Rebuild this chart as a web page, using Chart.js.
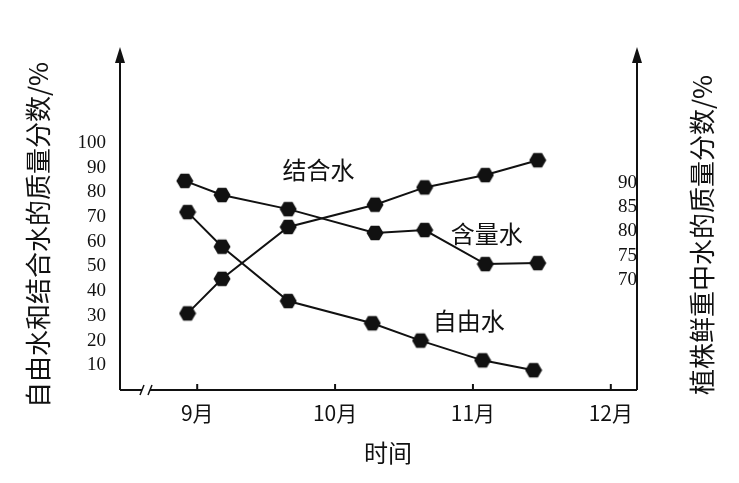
<!DOCTYPE html>
<html><head><meta charset="utf-8">
<script src="https://cdn.jsdelivr.net/npm/chart.js@4"></script>
<style>body{margin:0;background:#fff}</style>
</head><body>
<canvas id="c" width="739" height="483"></canvas>
<script>
// x = 月份位置
var months = [9, 10, 11, 12];
var monthLabels = ['9月', '10月', '11月', '12月'];
var xBound = [8.93, 9.18, 9.66, 10.29, 10.65, 11.09, 11.47];
var bound = [31, 45, 66, 75, 82, 87, 93];      // 结合水
var xFree = [8.93, 9.18, 9.66, 10.27, 10.62, 11.07, 11.44];
var free = [72, 58, 36, 27, 20, 12, 8];        // 自由水
var xTotal = [8.91, 9.18, 9.66, 10.29, 10.65, 11.09, 11.47];
var total = [90.4, 87.5, 84.6, 79.7, 80.3, 73.3, 73.5]; // 含量水(右轴)
var leftTicks = [10, 20, 30, 40, 50, 60, 70, 80, 90, 100];
var rightTicks = [70, 75, 80, 85, 90];

var hex = document.createElement('canvas');
hex.width = hex.height = 18;
(function () {
    var g = hex.getContext('2d');
    g.fillStyle = '#111';
    g.beginPath();
    for (var i = 0; i < 6; i++) {
        var a = Math.PI / 3 * i;
        g.lineTo(9 + 8.5 * Math.cos(a), 9 + 8.5 * Math.sin(a));
    }
    g.closePath(); g.fill();
})();

function pts(xs, ys) { return xs.map(function (x, i) { return {x: x, y: ys[i]}; }); }
var ds = function (data, axis) {
    return {data: data, yAxisID: axis, borderColor: '#111', borderWidth: 2, pointStyle: hex, pointRadius: 9, tension: 0};
};

var deco = {
    id: 'deco',
    afterDraw: function (ch) {
        var g = ch.ctx, a = ch.chartArea, sx = ch.scales.x, sy = ch.scales.y;
        g.save();
        g.strokeStyle = '#111'; g.fillStyle = '#111'; g.lineWidth = 2;
        [a.left, a.right].forEach(function (x) {
            g.beginPath(); g.moveTo(x, a.bottom); g.lineTo(x, a.top); g.stroke();
            g.beginPath(); g.moveTo(x, a.top - 8); g.lineTo(x - 5, a.top + 8); g.lineTo(x + 5, a.top + 8); g.fill();
        });
        g.beginPath(); g.moveTo(a.left, a.bottom); g.lineTo(a.right, a.bottom); g.stroke();
        g.clearRect(a.left + 22, a.bottom - 4, 8, 8);
        g.lineWidth = 1.5;
        g.beginPath(); g.moveTo(a.left + 20, a.bottom + 5); g.lineTo(a.left + 24, a.bottom - 5);
        g.moveTo(a.left + 28, a.bottom + 5); g.lineTo(a.left + 32, a.bottom - 5); g.stroke();
        g.lineWidth = 2;
        months.forEach(function (m) {
            var x = sx.getPixelForValue(m);
            g.beginPath(); g.moveTo(x, a.bottom); g.lineTo(x, a.bottom - 6); g.stroke();
        });
        g.font = '24px "Noto Sans CJK SC"';
        g.textAlign = 'center'; g.textBaseline = 'middle';
        g.fillText('结合水', sx.getPixelForValue(9.88), sy.getPixelForValue(89));
        g.fillText('含量水', sx.getPixelForValue(11.1), sy.getPixelForValue(63));
        g.fillText('自由水', sx.getPixelForValue(10.97), sy.getPixelForValue(28));
        g.fillText('时间', 388, 453);
        g.font = '26px "Noto Sans CJK SC"';
        g.translate(38, 235); g.rotate(-Math.PI / 2);
        g.fillText('自由水和结合水的质量分数/%', 0, 0);
        g.setTransform(1, 0, 0, 1, 0, 0);
        g.translate(702, 235); g.rotate(-Math.PI / 2);
        g.fillText('植株鲜重中水的质量分数/%', 0, 0);
        g.restore();
    }
};

new Chart(document.getElementById('c'), {
    type: 'line',
    data: {datasets: [ds(pts(xBound, bound), 'y'), ds(pts(xFree, free), 'y'), ds(pts(xTotal, total), 'y2')]},
    options: {
        responsive: false, animation: false,
        layout: {padding: {top: 55}},
        plugins: {legend: {display: false}, tooltip: {enabled: false}},
        scales: {
            x: {
                type: 'linear', min: 8.44, max: 12.19,
                grid: {display: false}, border: {display: false},
                afterFit: function (s) { s.height = 93; },
                afterBuildTicks: function (s) { s.ticks = months.map(function (v) { return {value: v}; }); },
                ticks: {color: '#111', font: {size: 21, family: '"Noto Sans CJK SC"'}, padding: 2,
                    callback: function (v) { return monthLabels[months.indexOf(v)]; }}
            },
            y: {
                min: 0, max: 135.6,
                grid: {display: false}, border: {display: false},
                afterFit: function (s) { s.width = 120; },
                afterBuildTicks: function (s) { s.ticks = leftTicks.map(function (v) { return {value: v}; }); },
                ticks: {color: '#111', font: {size: 19, family: 'Liberation Serif'}, padding: 6}
            },
            y2: {
                position: 'right', min: 47.4, max: 116.3,
                grid: {display: false}, border: {display: false},
                afterFit: function (s) { s.width = 102; },
                afterBuildTicks: function (s) { s.ticks = rightTicks.map(function (v) { return {value: v}; }); },
                ticks: {color: '#111', font: {size: 19, family: 'Liberation Serif'}, padding: 0,
                    mirror: true, labelOffset: 0, z: 1,
                    callback: function (v) { return v; }}
            }
        }
    },
    plugins: [deco, {
        id: 'rtick',
        afterDraw: function (ch) {
            // 右轴刻度数字放在轴线左侧,与原图一致
        }
    }]
});
</script>
</body></html>
